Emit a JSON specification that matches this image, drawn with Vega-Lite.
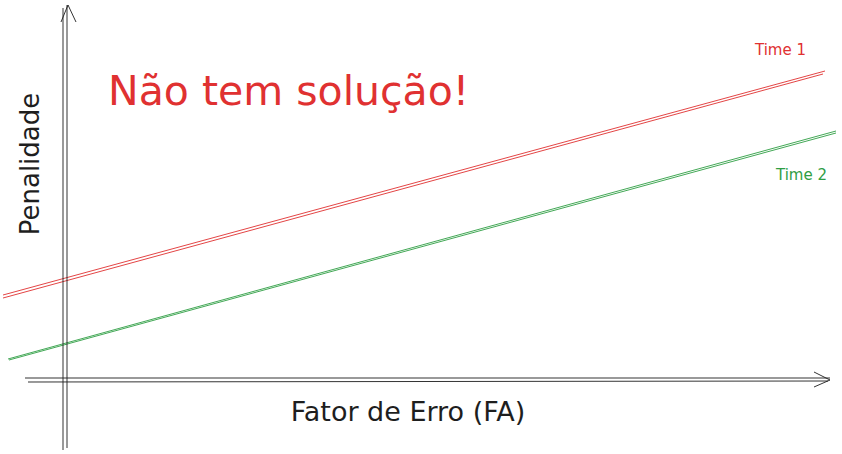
{
  "$schema": "https://vega.github.io/schema/vega-lite/v6.json",
  "width": 842,
  "height": 454,
  "padding": 0,
  "autosize": {"type": "fit", "contains": "padding"},
  "background": "white",
  "config": {"view": {"stroke": null}},
  "layer": [
    {
      "data": {"values": [
        {"x": -63, "y": 83, "x2": 759, "y2": 307, "g": "Time 1"},
        {"x": -63, "y": 80, "x2": 757, "y2": 304, "g": "Time 1"},
        {"x": -58, "y": 19, "x2": 770, "y2": 247, "g": "Time 2"},
        {"x": -57, "y": 18, "x2": 770, "y2": 245, "g": "Time 2"},
        {"x": -3, "y": -72, "x2": -3, "y2": 370, "g": "eixo"},
        {"x": 1, "y": -70, "x2": 1, "y2": 373, "g": "eixo"},
        {"x": 2, "y": 373, "x2": -5, "y2": 356, "g": "eixo"},
        {"x": 2, "y": 373, "x2": 10, "y2": 356, "g": "eixo"},
        {"x": -41, "y": 0, "x2": 764, "y2": 0, "g": "eixo"},
        {"x": -38, "y": -4, "x2": 762, "y2": -3, "g": "eixo"},
        {"x": 764, "y": -2, "x2": 748, "y2": 6, "g": "eixo"},
        {"x": 764, "y": -2, "x2": 748, "y2": -9, "g": "eixo"}
      ]},
      "mark": {"type": "rule", "strokeWidth": 1, "opacity": 0.9},
      "encoding": {
        "x": {"field": "x", "type": "quantitative", "scale": {"domain": [-66, 776], "nice": false, "zero": false}, "axis": null},
        "y": {"field": "y", "type": "quantitative", "scale": {"domain": [-76, 378], "nice": false, "zero": false}, "axis": null},
        "x2": {"field": "x2"},
        "y2": {"field": "y2"},
        "color": {"field": "g", "type": "nominal", "scale": {"domain": ["Time 1", "Time 2", "eixo"], "range": ["#e03131", "#2f9e44", "#1e1e1e"]}, "legend": null}
      }
    },
    {
      "data": {"values": [{"x": 42, "y": 273, "label": "Não tem solução!"}]},
      "mark": {"type": "text", "align": "left", "baseline": "alphabetic", "font": "DejaVu Sans", "fontSize": 41, "color": "#e03131"},
      "encoding": {
        "x": {"field": "x", "type": "quantitative"},
        "y": {"field": "y", "type": "quantitative"},
        "text": {"field": "label"}
      }
    },
    {
      "data": {"values": [
        {"x": 689, "y": 323, "label": "Time 1", "g": "Time 1"},
        {"x": 710, "y": 198, "label": "Time 2", "g": "Time 2"}
      ]},
      "mark": {"type": "text", "align": "left", "baseline": "alphabetic", "font": "DejaVu Sans", "fontSize": 15},
      "encoding": {
        "x": {"field": "x", "type": "quantitative"},
        "y": {"field": "y", "type": "quantitative"},
        "text": {"field": "label"},
        "color": {"field": "g", "type": "nominal", "legend": null}
      }
    },
    {
      "data": {"values": [{"x": -35, "y": 214, "label": "Penalidade"}]},
      "mark": {"type": "text", "align": "center", "baseline": "middle", "angle": 270, "font": "DejaVu Sans", "fontSize": 26, "color": "#1e1e1e"},
      "encoding": {
        "x": {"field": "x", "type": "quantitative"},
        "y": {"field": "y", "type": "quantitative"},
        "text": {"field": "label"}
      }
    },
    {
      "data": {"values": [{"x": 342, "y": -43, "label": "Fator de Erro (FA)"}]},
      "mark": {"type": "text", "align": "center", "baseline": "alphabetic", "font": "DejaVu Sans", "fontSize": 27, "color": "#1e1e1e"},
      "encoding": {
        "x": {"field": "x", "type": "quantitative"},
        "y": {"field": "y", "type": "quantitative"},
        "text": {"field": "label"}
      }
    }
  ]
}
